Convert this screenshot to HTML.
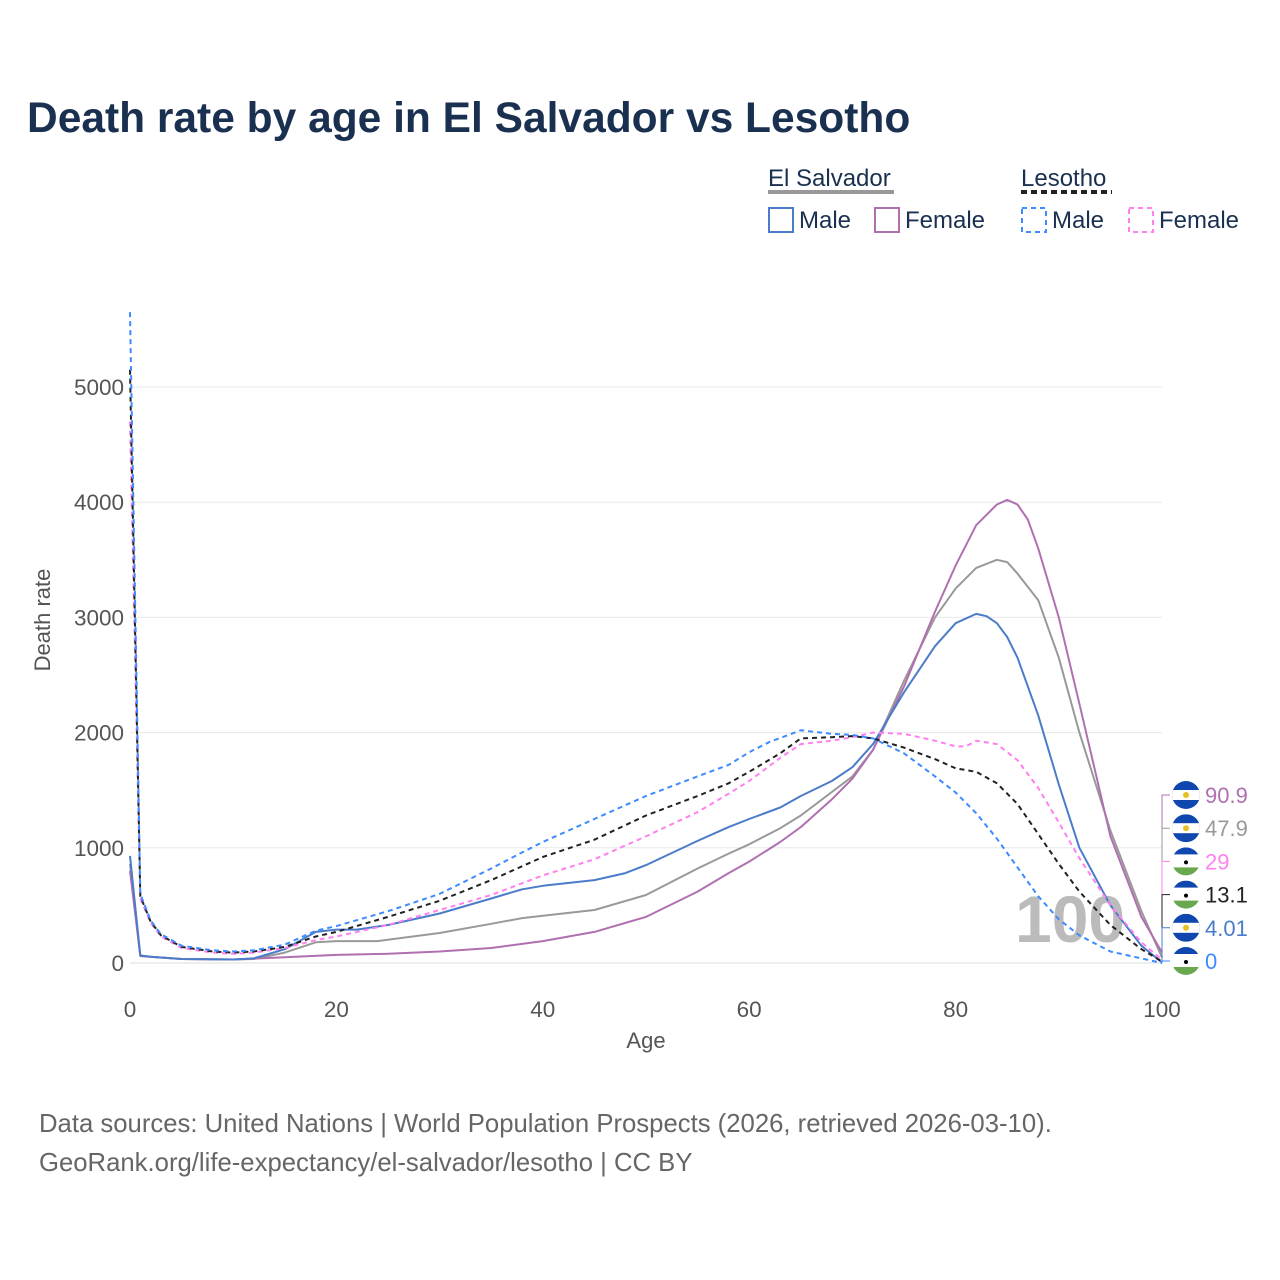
<!DOCTYPE html>
<html><head><meta charset="utf-8"><style>
body{margin:0;background:#fff;font-family:"Liberation Sans",sans-serif;}
svg{display:block}
</style></head><body>
<svg id="chart" width="1280" height="1280" viewBox="0 0 1280 1280" xmlns="http://www.w3.org/2000/svg" font-family="Liberation Sans, sans-serif">
<text x="27" y="132" font-size="42.5" font-weight="bold" fill="#1a3050">Death rate by age in El Salvador vs Lesotho</text>
<g font-size="24" fill="#1a3050">
<text x="768" y="186">El Salvador</text>
<line x1="768" y1="192" x2="894" y2="192" stroke="#999" stroke-width="4"/>
<text x="1021" y="186">Lesotho</text>
<line x1="1021" y1="192" x2="1112" y2="192" stroke="#222" stroke-width="4" stroke-dasharray="6,4"/>
<rect x="769" y="208" width="24" height="24" fill="none" stroke="#4a7cc9" stroke-width="2"/>
<text x="799" y="228">Male</text>
<rect x="875" y="208" width="24" height="24" fill="none" stroke="#b070b0" stroke-width="2"/>
<text x="905" y="228">Female</text>
<rect x="1022" y="208" width="24" height="24" fill="none" stroke="#3d8bff" stroke-width="2" stroke-dasharray="5,4"/>
<text x="1052" y="228">Male</text>
<rect x="1129" y="208" width="24" height="24" fill="none" stroke="#ff80ee" stroke-width="2" stroke-dasharray="5,4"/>
<text x="1159" y="228">Female</text>
</g>
<g id="grid"></g>
<text x="1015" y="942" font-size="66" font-weight="bold" fill="#bbb">100</text>
<g id="series"></g>
<g id="axes" font-size="22.5" fill="#555"></g>
<text transform="translate(50,620) rotate(-90)" text-anchor="middle" font-size="22" fill="#555">Death rate</text>
<text x="646" y="1048" text-anchor="middle" font-size="22" fill="#555">Age</text>
<g id="endlabels"></g>
<text x="39" y="1132" font-size="25.7" fill="#666">Data sources: United Nations | World Population Prospects (2026, retrieved 2026-03-10).</text>
<text x="39" y="1171" font-size="25.7" fill="#666">GeoRank.org/life-expectancy/el-salvador/lesotho | CC BY</text>
</svg>
<script>
const yTicks=[0,1000,2000,3000,4000,5000];
const xTicks=[0,20,40,60,80,100];
const svMaleAges=[0,1,2,5,10,12,15,18,20,22,25,30,35,38,40,45,48,50,55,58,60,63,65,68,70,72,75,78,80,82,83,84,85,86,88,90,92,95,98,100];
const svMaleVals=[930,65,55,35,30,40,120,270,290,290,330,430,560,640,670,720,780,850,1060,1180,1250,1350,1450,1580,1700,1900,2350,2750,2950,3030,3010,2950,2830,2650,2150,1550,1000,500,150,4];
const svBothAges=[0,1,2,5,10,12,15,18,20,24,30,35,38,40,45,50,55,58,60,63,65,70,72,75,78,80,82,84,85,86,88,90,92,95,98,100];
const svBothVals=[860,65,55,35,30,35,90,180,190,190,260,340,390,410,460,590,820,950,1030,1170,1280,1620,1850,2450,3000,3250,3430,3500,3480,3380,3150,2650,2000,1150,450,48];
const svFemAges=[0,1,5,10,15,20,25,30,35,40,45,50,55,58,60,63,65,68,70,72,75,78,80,82,84,85,86,87,88,90,92,95,98,100];
const svFemVals=[800,60,35,30,50,70,80,100,130,190,270,400,620,780,880,1050,1180,1420,1600,1850,2400,3050,3450,3800,3980,4020,3980,3850,3600,3000,2250,1100,400,91];
const lsMaleAges=[0,1,2,3,5,8,10,12,15,18,20,25,30,35,38,40,45,50,55,58,60,62,65,68,70,72,75,78,80,82,84,86,88,90,92,95,98,100];
const lsMaleVals=[5650,600,370,250,150,110,100,110,160,280,320,450,600,820,960,1050,1250,1450,1620,1720,1830,1920,2020,1990,1980,1950,1820,1620,1480,1300,1080,830,580,380,240,100,40,0];
const lsBothAges=[0,1,2,3,5,8,10,12,15,18,20,25,30,35,40,45,50,55,58,60,63,65,68,70,72,75,78,80,82,84,86,88,90,92,95,98,100];
const lsBothVals=[5150,580,360,240,140,100,90,100,140,230,270,400,540,720,920,1070,1280,1450,1560,1660,1820,1950,1960,1970,1950,1870,1770,1690,1660,1560,1380,1120,860,620,330,120,13];
const lsFemAges=[0,1,2,3,5,8,10,12,15,18,20,25,30,35,40,45,50,55,58,60,63,65,68,70,72,75,78,80,81,82,84,86,88,90,92,95,98,100];
const lsFemVals=[4700,560,350,230,130,90,80,90,130,200,230,330,460,590,760,900,1100,1310,1470,1580,1780,1900,1930,1960,2000,1990,1930,1880,1880,1930,1900,1760,1520,1220,910,500,180,29];
const endLabels=["90.9","47.9","29","13.1","4.01","0"];
const endValues=[90.9,47.9,29,13.1,4.01,0];

const NS="http://www.w3.org/2000/svg";
const X=a=>130+a*10.32;
const Y=v=>963-v*0.1152;
const grid=document.getElementById('grid'),axes=document.getElementById('axes');
yTicks.forEach(t=>{
 const l=document.createElementNS(NS,'line');
 
 
 l.setAttribute('x1',130);l.setAttribute('x2',1162);l.setAttribute('y1',Y(t));l.setAttribute('y2',Y(t));
 l.setAttribute('stroke',t===0?'#ddd':'#e8e8e8');l.setAttribute('stroke-width',1);
 grid.appendChild(l);
 const tx=document.createElementNS(NS,'text');
 
 
 tx.setAttribute('x',124);tx.setAttribute('y',Y(t)+8);tx.setAttribute('text-anchor','end');
 tx.textContent=t;axes.appendChild(tx);
});
xTicks.forEach(t=>{
 const tx=document.createElementNS(NS,'text');
 
 
 tx.setAttribute('x',X(t));tx.setAttribute('y',1017);tx.setAttribute('text-anchor','middle');
 tx.textContent=t;axes.appendChild(tx);
});
const series=[
 ['line-sv-both',svBothAges,svBothVals,'#999',null],
 ['line-sv-female',svFemAges,svFemVals,'#b070b0',null],
 ['line-sv-male',svMaleAges,svMaleVals,'#4a7cc9',null],
 ['line-ls-female',lsFemAges,lsFemVals,'#ff80ee','5,4'],
 ['line-ls-both',lsBothAges,lsBothVals,'#222','5,4'],
 ['line-ls-male',lsMaleAges,lsMaleVals,'#3d8bff','5,4']
];
const sg=document.getElementById('series');
series.forEach(s=>{
 const p=document.createElementNS(NS,'path');
 
 
 p.setAttribute('d',s[1].map((a,i)=>(i?'L':'M')+X(a).toFixed(1)+','+Y(s[2][i]).toFixed(1)).join(''));
 p.setAttribute('fill','none');p.setAttribute('stroke',s[3]);p.setAttribute('stroke-width',2);
 p.setAttribute('stroke-linejoin','round');
 if(s[4])p.setAttribute('stroke-dasharray',s[4]);
 sg.appendChild(p);
});
const el=document.getElementById('endlabels');
const lblColors=['#b070b0','#999','#ff80ee','#222','#4a7cc9','#3d8bff'];
const lblFlags=['sv','sv','ls','ls','sv','ls'];
endLabels.forEach((t,i)=>{
 const y=795+i*33.2;
 const g=document.createElementNS(NS,'g');
 
 
 g.innerHTML=`<path d="M1162,${Y(endValues[i])} L1162,${y} L1170,${y}" fill="none" stroke="${lblColors[i]}" stroke-width="1"/>
 <clipPath id="c${i}"><circle cx="1186" cy="${y}" r="14"/></clipPath>
 <g clip-path="url(#c${i})">`+(lblFlags[i]==='sv'?
 `<rect x="1172" y="${y-14}" width="28" height="28" fill="#0f47af"/><rect x="1172" y="${y-5}" width="28" height="10" fill="#fff"/><circle cx="1186" cy="${y}" r="3" fill="#e8c020"/>`:
 `<rect x="1172" y="${y-14}" width="28" height="28" fill="#fff"/><rect x="1172" y="${y-14}" width="28" height="7" fill="#0f47af"/><rect x="1172" y="${y+6}" width="28" height="9" fill="#6aa84f"/><circle cx="1186" cy="${y+1}" r="2" fill="#000"/>`)+
 `</g><text x="1205" y="${y+8}" font-size="22" fill="${lblColors[i]}">${t}</text>`;
 el.appendChild(g);
});
</script>
</body></html>
